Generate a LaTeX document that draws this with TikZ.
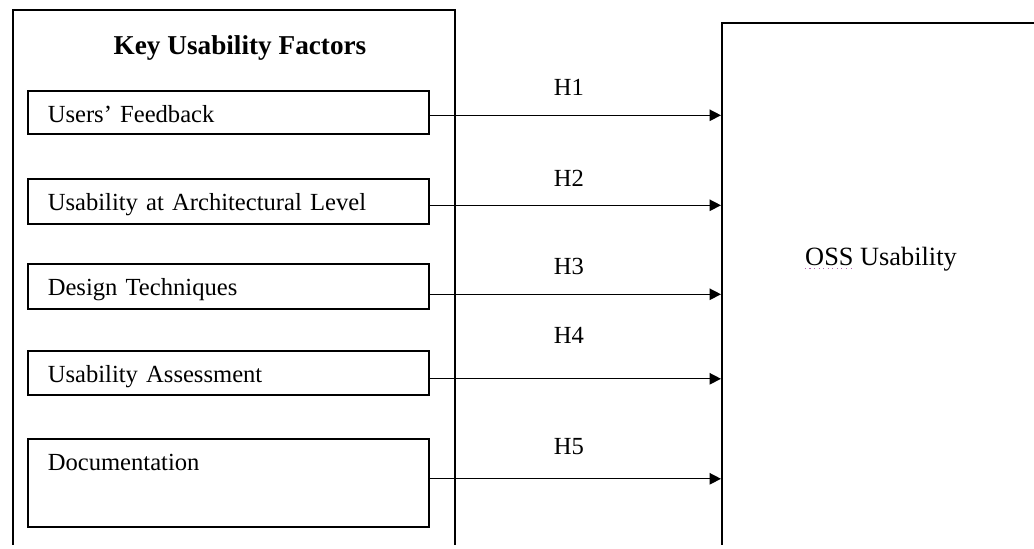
\documentclass[tikz,border=0pt]{standalone}
\usepackage{fontspec}
\setmainfont{Liberation Serif}
\usetikzlibrary{arrows.meta}

\newcommand{\pxl}{0.02cm}

\tikzset{
  outerbox/.style={draw, line width=0.9pt, anchor=north west, inner sep=0pt},
  factorbox/.style={draw, line width=0.9pt, anchor=north west, inner xsep=20*\pxl, inner ysep=0pt,
    text width=361*\pxl, align=left, text height=0.64cm, font=\fontsize{14}{16}\selectfont},
  hlabel/.style={font=\fontsize{14}{16}\selectfont},
  hyparrow/.style={line width=0.8pt, -{Triangle[length=6.5pt,width=6.5pt]}}
}

\begin{document}
\begin{tikzpicture}[x=0.02cm, y=-0.02cm] % one unit = one pixel of the reference
    \useasboundingbox (0,0) rectangle (1034,548);
    \begin{scope}
    \clip (0,0) rectangle (1034,544);

    % Left frame with the factors
    \node[outerbox, minimum width=442*\pxl, minimum height=560*\pxl] (kuf) at (12,9) {};
    \node[font=\fontsize{15.5}{18}\selectfont\bfseries] (title) at (240,48) {Key Usability Factors};

    % Factor boxes (top edge / height in px)
    \foreach \i/\by/\bh/\txt in {1/90/43/{Users' Feedback}, 2/178/45/{Usability at Architectural Level},
        3/263/45/{Design Techniques}, 4/350/44/{Usability Assessment}, 5/438/88/{Documentation}} {
      \pgfmathsetlengthmacro{\txtdepth}{(\bh-32)*0.02cm}
      \node[factorbox, text depth=\txtdepth] (f\i) at (27,\by) {\txt};
    }

    % Right frame (dependent variable)
    \node[outerbox, minimum width=340*\pxl, minimum height=540*\pxl] (oss) at (721,22) {};
    \node[font=\fontsize{15}{17}\selectfont, inner sep=0pt] (ossname) at (881,259) {OSS Usability};
    \draw[violet!60, line width=0.6pt, dotted] ([yshift=-2pt]ossname.base west) -- ++(50,0); % spell-check mark

    % Hypotheses H1--H5
    \foreach \i/\hy/\dy in {1/87/3, 2/178/4, 3/266/8, 4/335/6, 5/447/-4} {
      \draw[hyparrow] ([yshift=-\dy*\pxl]f\i.east) -- ([yshift=-\dy*\pxl]f\i.east -| oss.west);
      \node[hlabel] (h\i) at (569,\hy) {H\i};
    }
    \end{scope}
\end{tikzpicture}
\end{document}
